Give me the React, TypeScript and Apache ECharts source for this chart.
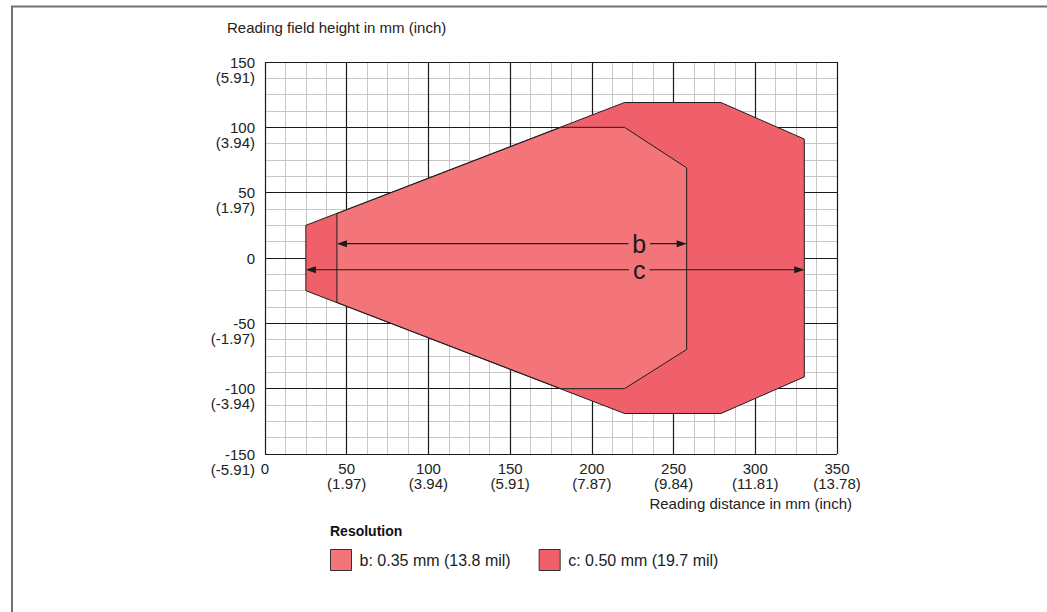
import React, { useEffect, useRef } from "react";
import * as echarts from "echarts";

// Axis ticks (mm) and their inch labels
const xTicks = [0, 50, 100, 150, 200, 250, 300, 350];
const xTickInch = ["", "(1.97)", "(3.94)", "(5.91)", "(7.87)", "(9.84)", "(11.81)", "(13.78)"];
const yTicks = [-150, -100, -50, 0, 50, 100, 150];
const yTickInch = ["(-5.91)", "(-3.94)", "(-1.97)", "", "(1.97)", "(3.94)", "(5.91)"];

// Reading field outlines [distance mm, height mm]
const regionC: number[][] = [
  [25, 25], [220, 119], [279, 119], [330, 91],
  [330, -91], [279, -119], [220, -119], [25, -25],
];
const regionB: number[][] = [
  [44, 34], [181, 100], [220, 100], [258, 69],
  [258, -70], [220, -100], [181, -100], [44, -34],
];

// Range arrows: [start mm, end mm, height mm, label position mm]
const arrowB = [44, 258, 11, 229];
const arrowC = [25, 330, -9, 229];

const nameB = "b: 0.35 mm (13.8 mil)";
const nameC = "c: 0.50 mm (19.7 mil)";
const colorB = "#f37479";
const colorC = "#f0606a";
const FONT = "Liberation Sans, Arial, sans-serif";

export default function App() {
  const ref = useRef<HTMLDivElement>(null);
  useEffect(() => {
    document.body.style.margin = "0";
    document.body.style.overflow = "hidden";
    const chart = echarts.init(ref.current!, null, { renderer: "svg" });

    const polyRender = (pts: number[][], fill: string) => (params: any, api: any) => {
      if (params.dataIndex !== 0) return null;
      return {
        type: "polygon",
        shape: { points: pts.map((p) => api.coord(p)) },
        style: { fill, stroke: "#1e1e1e", lineWidth: 1 },
      };
    };

    const arrowRender = (label: string) => (params: any, api: any) => {
      const p1 = api.coord([api.value(0), api.value(2)]);
      const p2 = api.coord([api.value(1), api.value(2)]);
      const pl = api.coord([api.value(3), api.value(2)]);
      const y = p1[1];
      const L = 10, H = 3.5;
      return {
        type: "group",
        children: [
          { type: "line", shape: { x1: p1[0] + 2, y1: y, x2: p2[0] - 2, y2: y }, style: { stroke: "#1a1a1a", lineWidth: 1.2 } },
          { type: "polygon", shape: { points: [[p1[0], y], [p1[0] + L, y - H], [p1[0] + L, y + H]] }, style: { fill: "#1a1a1a" } },
          { type: "polygon", shape: { points: [[p2[0], y], [p2[0] - L, y - H], [p2[0] - L, y + H]] }, style: { fill: "#1a1a1a" } },
          {
            type: "text",
            x: pl[0],
            y: y,
            style: {
              text: label, fontSize: 25, lineHeight: 22, fontFamily: FONT, fill: "#1a1a1a",
              align: "center", verticalAlign: "middle",
              backgroundColor: colorB, padding: [0, 4],
            },
          },
        ],
      };
    };

    const gridColorMinor = "#c6c6c6";
    const gridColorMajor = "#1a1a1a";

    chart.setOption({
      animation: false,
      textStyle: { fontFamily: FONT },
      grid: { left: 265, right: 210, top: 62, bottom: 158 },
      title: {
        text: "Resolution",
        left: 330,
        top: 524,
        padding: 0,
        textStyle: { fontSize: 14, fontWeight: "bold", color: "#111", fontFamily: FONT },
      },
      legend: {
        data: [nameB, nameC],
        left: 330,
        top: 549,
        padding: 0,
        icon: "rect",
        itemWidth: 21,
        itemHeight: 21,
        itemGap: 28,
        itemStyle: { borderColor: "#333", borderWidth: 1 },
        textStyle: { fontSize: 16, color: "#222", fontFamily: FONT, padding: [0, 0, 0, 3] },
      },
      xAxis: [
        {
          type: "value", min: 0, max: 350, interval: 50, z: 1,
          axisLine: { show: false }, axisTick: { show: false },
          splitLine: { show: true, lineStyle: { color: gridColorMajor, width: 1.2 } },
          axisLabel: {
            margin: 7, fontSize: 15, lineHeight: 15, color: "#222", fontFamily: FONT,
            formatter: (v: number) => {
              const inch = xTickInch[xTicks.indexOf(v)];
              return inch ? `${v}\n${inch}` : `${v}`;
            },
          },
        },
        {
          type: "value", min: 0, max: 350, interval: 12.5, z: 0,
          axisLine: { show: false }, axisTick: { show: false }, axisLabel: { show: false },
          splitLine: { show: true, lineStyle: { color: gridColorMinor, width: 1 } },
        },
      ],
      yAxis: [
        {
          type: "value", min: -150, max: 150, interval: 50, z: 1,
          axisLine: { show: false }, axisTick: { show: false },
          splitLine: { show: true, lineStyle: { color: gridColorMajor, width: 1.2 } },
          axisLabel: {
            margin: 10, fontSize: 15, lineHeight: 15, color: "#222", align: "right", fontFamily: FONT,
            formatter: (v: number) => {
              const inch = yTickInch[yTicks.indexOf(v)];
              return inch ? `\n${v}\n${inch}` : `${v}`;
            },
          },
        },
        {
          type: "value", min: -150, max: 150, interval: 12.5, z: 0,
          axisLine: { show: false }, axisTick: { show: false }, axisLabel: { show: false },
          splitLine: { show: true, lineStyle: { color: gridColorMinor, width: 1 } },
        },
      ],
      graphic: [
        {
          type: "rect",
          shape: { x: 12, y: 6.5, width: 1200, height: 800 },
          style: { fill: "none", stroke: "#707070", lineWidth: 2 },
          silent: true,
        },
        {
          type: "text", x: 227, y: 27,
          style: { text: "Reading field height in mm (inch)", fontSize: 15, fontFamily: FONT, fill: "#222", align: "left", verticalAlign: "middle" },
        },
        {
          type: "text", x: 852, y: 503,
          style: { text: "Reading distance in mm (inch)", fontSize: 15, fontFamily: FONT, fill: "#222", align: "right", verticalAlign: "middle" },
        },
      ],
      series: [
        {
          name: nameC, type: "custom", coordinateSystem: "cartesian2d", xAxisIndex: 0, yAxisIndex: 0,
          itemStyle: { color: colorC, borderColor: "#333", borderWidth: 1 },
          encode: { x: 0, y: 1 },
          data: regionC,
          renderItem: polyRender(regionC, colorC),
          z: 3,
        },
        {
          name: nameB, type: "custom", coordinateSystem: "cartesian2d", xAxisIndex: 0, yAxisIndex: 0,
          itemStyle: { color: colorB, borderColor: "#333", borderWidth: 1 },
          encode: { x: 0, y: 1 },
          data: regionB,
          renderItem: polyRender(regionB, colorB),
          z: 4,
        },
        {
          name: "arrow-b", type: "custom", coordinateSystem: "cartesian2d",
          encode: { x: [0, 1, 3], y: 2 },
          data: [arrowB],
          renderItem: arrowRender("b"),
          z: 5,
        },
        {
          name: "arrow-c", type: "custom", coordinateSystem: "cartesian2d",
          encode: { x: [0, 1, 3], y: 2 },
          data: [arrowC],
          renderItem: arrowRender("c"),
          z: 5,
        },
      ],
    });
    return () => chart.dispose();
  }, []);
  return <div ref={ref} style={{ width: 1047, height: 612 }} />;
}
